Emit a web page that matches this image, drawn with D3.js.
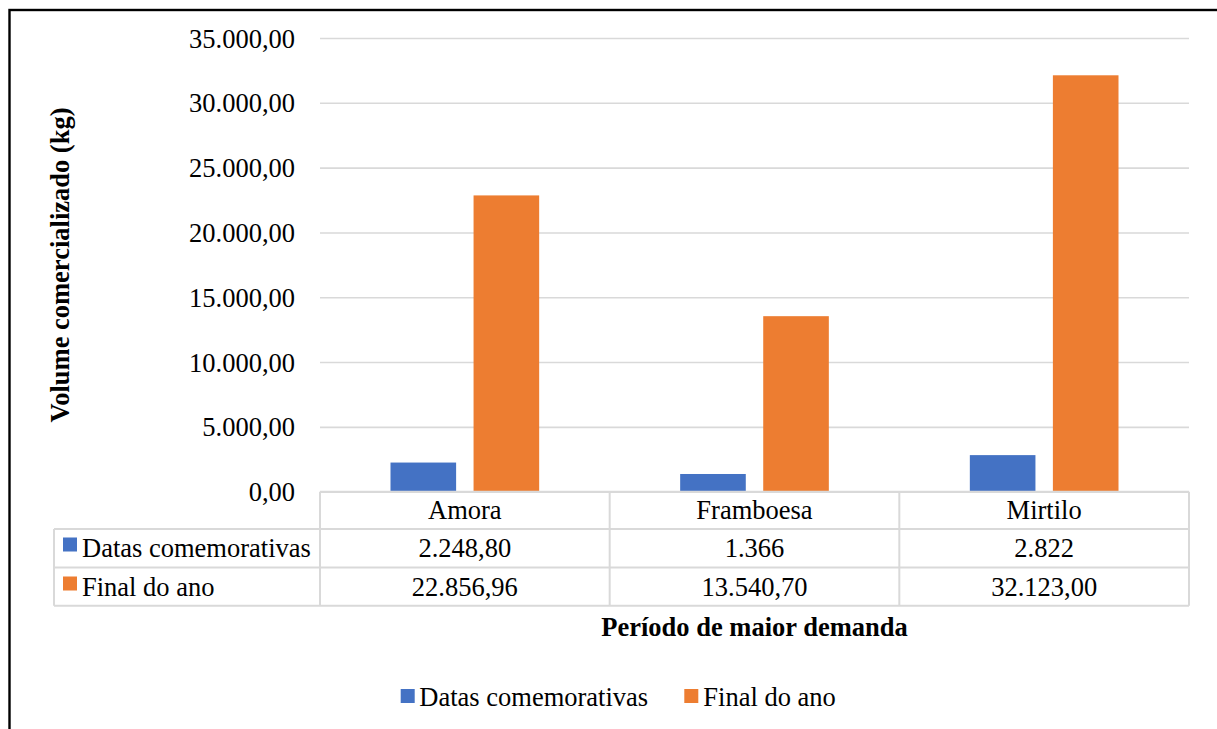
<!DOCTYPE html>
<html>
<head>
<meta charset="utf-8">
<script src="https://cdn.jsdelivr.net/npm/d3@7"></script>
</head>
<body style="margin:0">
<svg id="chart" width="1217" height="729" font-family="'Times New Roman', 'Liberation Serif', serif"></svg>
<script>
// Fruit categories and the two demand periods
const categories = ["Amora", "Framboesa", "Mirtilo"];
const seriesNames = ["Datas comemorativas", "Final do ano"];
const seriesColors = ["#4472C4", "#ED7D31"];
const datasComemorativas = [2248.8, 1366, 2822];
const finalDoAno = [22856.96, 13540.7, 32123];
// Values as printed in the data table
const datasLabels = ["2.248,80", "1.366", "2.822"];
const finalLabels = ["22.856,96", "13.540,70", "32.123,00"];
const yTicks = [0, 5000, 10000, 15000, 20000, 25000, 30000, 35000];

const series = [datasComemorativas, finalDoAno];
const tableLabels = [datasLabels, finalLabels];

const FONT = "'Times New Roman', 'Liberation Serif', serif";
const svg = d3.select("#chart");
const fontSize = 26.5;
const gridColor = "#D9D9D9";

// Outer chart frame
svg.append("rect")
  .attr("x", 9.5).attr("y", 10)
  .attr("width", 1400).attr("height", 1000)
  .attr("fill", "none").attr("stroke", "#000").attr("stroke-width", 2.4);

const plot = { left: 320, right: 1189, top: 38, bottom: 491.7 };

const x0 = d3.scaleBand().domain(categories).range([plot.left, plot.right]).paddingInner(0).paddingOuter(0);
const x1 = d3.scaleBand().domain(d3.range(series.length))
  .range([70.5, x0.bandwidth() - 70.5]).paddingInner(0.21).paddingOuter(0);
const y = d3.scaleLinear().domain([0, 35000]).range([plot.bottom, plot.top]);

const ptBR = d3.formatLocale({ decimal: ",", thousands: ".", grouping: [3], currency: ["", ""] });
const fmt = ptBR.format(",.2f");

// Gridlines and y tick labels
const yAxis = d3.axisLeft(y).tickValues(yTicks).tickFormat(fmt)
  .tickSize(-(plot.right - plot.left)).tickPadding(25);
const gy = svg.append("g").attr("transform", `translate(${plot.left},0)`).call(yAxis);
gy.attr("font-family", FONT).attr("font-size", fontSize);
gy.select(".domain").remove();
gy.selectAll(".tick line").attr("stroke", gridColor).attr("stroke-width", 1.6);
gy.selectAll(".tick text")
  .attr("fill", "#000")
  .attr("dy", "0.34em");

// Bars
const groups = svg.append("g").selectAll("g")
  .data(series).join("g")
  .attr("fill", (d, i) => seriesColors[i]);
groups.each(function (vals, si) {
  d3.select(this).selectAll("rect")
    .data(vals).join("rect")
    .attr("x", (v, ci) => x0(categories[ci]) + x1(si))
    .attr("width", x1.bandwidth())
    .attr("y", v => y(v))
    .attr("height", v => y(0) - y(v));
});

// Data table
const rowLines = [491.7, 529, 567.5, 605.7];
const tableLeft = 54;
const tbl = svg.append("g").attr("stroke", gridColor).attr("stroke-width", 2).attr("fill", "none");
tbl.append("line").attr("x1", plot.left).attr("x2", plot.right).attr("y1", rowLines[0]).attr("y2", rowLines[0]);
rowLines.slice(1).forEach(yy => {
  tbl.append("line").attr("x1", tableLeft).attr("x2", plot.right).attr("y1", yy).attr("y2", yy);
});
tbl.append("line").attr("x1", tableLeft).attr("x2", tableLeft).attr("y1", rowLines[1]).attr("y2", rowLines[3]);
[plot.left, ...categories.map(c => x0(c) + x0.bandwidth())].forEach(xx => {
  tbl.append("line").attr("x1", xx).attr("x2", xx).attr("y1", rowLines[0]).attr("y2", rowLines[3]);
});

const rowBaselines = [518.5, 556.5, 595.5];
function label(x, yy, s, anchor) {
  return svg.append("text").attr("x", x).attr("y", yy)
    .attr("font-family", FONT).attr("font-size", fontSize).attr("fill", "#000")
    .attr("text-anchor", anchor || "start").text(s);
}
categories.forEach(c => label(x0(c) + x0.bandwidth() / 2, rowBaselines[0], c, "middle"));
seriesNames.forEach((name, si) => {
  svg.append("rect").attr("x", 63).attr("y", rowBaselines[si + 1] - 19)
    .attr("width", 14).attr("height", 14).attr("fill", seriesColors[si]);
  label(82, rowBaselines[si + 1], name);
  categories.forEach((c, ci) => {
    label(x0(c) + x0.bandwidth() / 2, rowBaselines[si + 1], tableLabels[si][ci], "middle");
  });
});

// Axis titles
label((plot.left + plot.right) / 2, 636, "Período de maior demanda", "middle")
  .attr("font-weight", "bold");

label(0, 0, "Volume comercializado (kg)", "middle")
  .attr("transform", "translate(69,265) rotate(-90)")
  .attr("font-weight", "bold");

// Legend
const legendItems = [{ x: 400.7, tx: 419.3 }, { x: 684.3, tx: 703.3 }];
seriesNames.forEach((name, si) => {
  svg.append("rect").attr("x", legendItems[si].x).attr("y", 689)
    .attr("width", 14).attr("height", 14).attr("fill", seriesColors[si]);
  label(legendItems[si].tx, 706, name);
});
</script>
</body>
</html>
